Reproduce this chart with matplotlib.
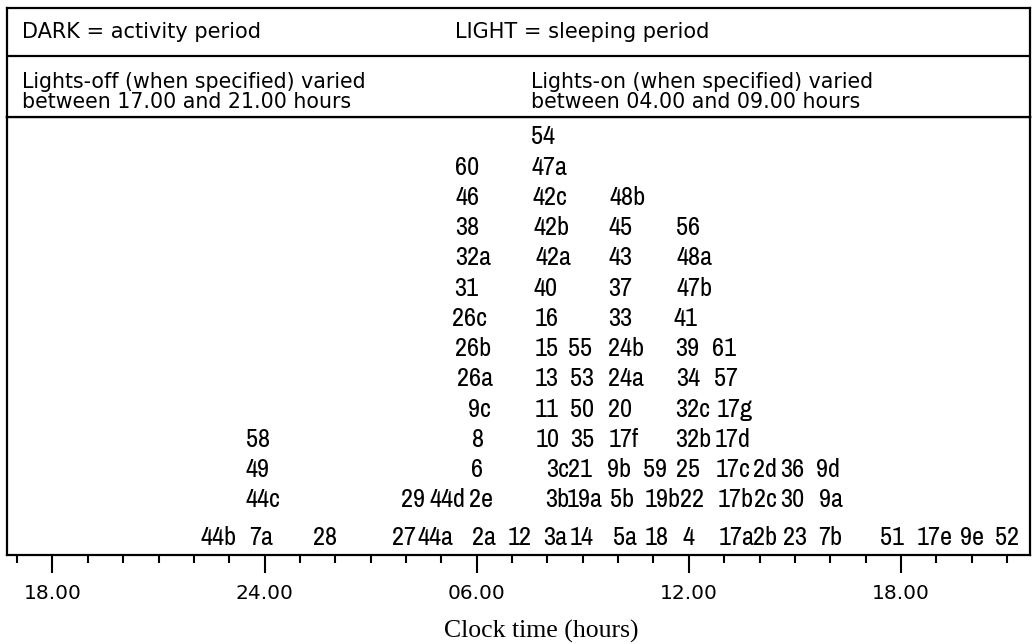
import matplotlib
matplotlib.use('Agg')
import matplotlib.pyplot as plt
from matplotlib import font_manager as fm
from matplotlib.ticker import FixedLocator, MultipleLocator

# clock time in hours; values past 24 belong to the next day
tick_hours = [18, 24, 30, 36, 42]
tick_labels = ['18.00', '24.00', '06.00', '12.00', '18.00']

# study numbers, stacked row by row (row 0 = bottom)
ids_by_row = [
    ['44b', '7a', '28', '27', '44a', '2a', '12', '3a', '14', '5a', '18', '4',
     '17a', '2b', '23', '7b', '51', '17e', '9e', '52'],
    ['44c', '29', '44d', '2e', '3b', '19a', '5b', '19b', '22', '17b', '2c', '30', '9a'],
    ['49', '6', '3c', '21', '9b', '59', '25', '17c', '2d', '36', '9d'],
    ['58', '8', '10', '35', '17f', '32b', '17d'],
    ['9c', '11', '50', '20', '32c', '17g'],
    ['26a', '13', '53', '24a', '34', '57'],
    ['26b', '15', '55', '24b', '39', '61'],
    ['26c', '16', '33', '41'],
    ['31', '40', '37', '47b'],
    ['32a', '42a', '43', '48a'],
    ['38', '42b', '45', '56'],
    ['46', '42c', '48b'],
    ['60', '47a'],
    ['54'],
]
hours_by_row = [
    [22.71, 23.90, 25.71, 27.95, 28.84, 30.21, 31.22, 32.21, 32.98, 34.20, 35.10, 35.98,
     37.34, 38.16, 39.00, 40.00, 41.75, 42.96, 44.01, 45.00],
    [23.95, 28.20, 29.16, 30.12, 32.27, 33.06, 34.11, 35.27, 36.09, 37.34, 38.18, 38.92, 40.02],
    [23.81, 30.01, 32.30, 32.92, 34.02, 35.04, 35.98, 37.25, 38.16, 38.92, 39.94],
    [23.81, 30.04, 32.02, 32.98, 34.17, 36.12, 37.25],
    [30.09, 31.99, 32.98, 34.05, 36.12, 37.31],
    [29.95, 31.99, 32.98, 34.22, 35.98, 37.05],
    [29.90, 31.99, 32.92, 34.22, 35.95, 37.00],
    [29.81, 31.99, 34.05, 35.92],
    [29.70, 31.96, 34.05, 36.15],
    [29.90, 32.16, 34.08, 36.15],
    [29.73, 32.13, 34.08, 35.98],
    [29.73, 32.07, 34.28],
    [29.73, 32.05],
    [31.88],
]


def narrow_font():
    # look for a condensed sans for the stencil-like study numbers
    fonts = fm.fontManager.ttflist
    for f in fonts:
        if 'Narrow' in f.name and f.style == 'normal' and f.weight in (400, 'normal', 'regular'):
            return fm.FontProperties(fname=f.fname), 19
    for f in fonts:
        cond = 'condensed' in str(f.stretch) or 'Condensed' in f.fname
        if cond and 'Sans' in f.name and f.style == 'normal' \
                and f.weight in (400, 'normal', 'regular') and 'Semi' not in f.fname \
                and 'Extra' not in f.fname and 'Ultra' not in f.fname:
            return fm.FontProperties(fname=f.fname), 19
    return fm.FontProperties(family='Liberation Sans'), 16


W, H = 1032, 644
fig = plt.figure(figsize=(W / 100, H / 100), dpi=100)

def box(left, top, right, bottom):
    return [left / W, 1 - bottom / H, (right - left) / W, (bottom - top) / H]

lw = 1.6
num_font, num_size = narrow_font()

# main panel
ax = fig.add_axes(box(7, 117, 1030, 555))
ax.set_xlim(16.713, 45.652)
ax.set_ylim(-0.82, 13.66)
for s in ax.spines.values():
    s.set_linewidth(lw)
ax.set_yticks([])
ax.xaxis.set_major_locator(FixedLocator(tick_hours))
ax.set_xticklabels(tick_labels)
ax.xaxis.set_minor_locator(MultipleLocator(1))
ax.tick_params(axis='x', which='major', length=13, width=1.5, pad=8,
               labelsize=14.5, direction='out')
ax.tick_params(axis='x', which='minor', length=6, width=1.5, direction='out')
ax.set_xlabel('Clock time (hours)', fontfamily='Liberation Serif', fontsize=18.5)
ax.xaxis.set_label_coords(0.522, -0.148)

for row, (ids, hours) in enumerate(zip(ids_by_row, hours_by_row)):
    y = row if row else -0.23
    for name, t in zip(ids, hours):
        ax.text(t, y, name, ha='center', va='center', fontproperties=num_font,
                fontsize=num_size)

# header panel
hx = fig.add_axes(box(7, 8, 1030, 117))
hx.set_xlim(0, 1)
hx.set_ylim(0, 1)
hx.set_xticks([])
hx.set_yticks([])
for s in hx.spines.values():
    s.set_linewidth(lw)
hx.axhline(0.56, color='black', lw=lw)
hdr = dict(fontsize=15, va='center', ha='left')
hx.text(0.0147, 0.78, 'DARK = activity period', **hdr)
hx.text(0.438, 0.78, 'LIGHT = sleeping period', **hdr)
sub = dict(fontsize=14.8, va='center', ha='left', linespacing=1.05)
hx.text(0.0147, 0.23, 'Lights-off (when specified) varied\nbetween 17.00 and 21.00 hours', **sub)
hx.text(0.512, 0.23, 'Lights-on (when specified) varied\nbetween 04.00 and 09.00 hours', **sub)

fig.savefig('out.png', dpi=100)
